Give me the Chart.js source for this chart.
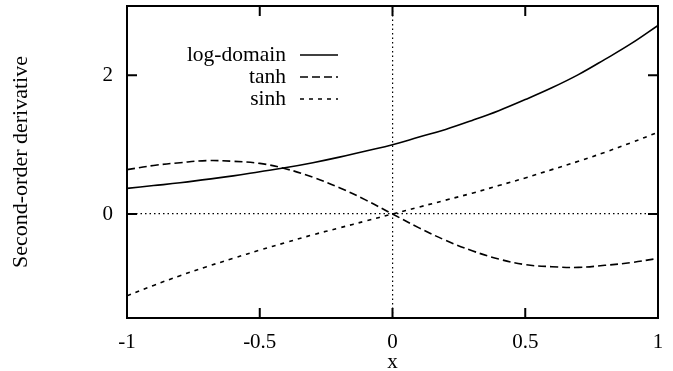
<!DOCTYPE html>
<html>
<head>
<meta charset="utf-8">
<script src="https://cdn.jsdelivr.net/npm/chart.js@4/dist/chart.umd.min.js"></script>
<style>
  html, body { margin: 0; padding: 0; background: #fff; }
  #wrap { width: 673px; height: 371px; }
</style>
</head>
<body>
<div id="wrap"><canvas id="c" width="673" height="371"></canvas></div>
<script>
// ---- data ----
const xValues = [-1.0, -0.9, -0.8, -0.7, -0.6, -0.5, -0.4, -0.3, -0.2, -0.1, 0.0,
                 0.1, 0.2, 0.3, 0.4, 0.5, 0.6, 0.7, 0.8, 0.9, 1.0];
const logDomain = [0.37, 0.41, 0.45, 0.50, 0.55, 0.61, 0.67, 0.74, 0.82, 0.91, 1.00,
                   1.11, 1.22, 1.35, 1.49, 1.65, 1.82, 2.01, 2.23, 2.46, 2.72];
const tanhSeries = [0.64, 0.70, 0.74, 0.77, 0.76, 0.73, 0.65, 0.53, 0.38, 0.20, 0.00,
                    -0.20, -0.38, -0.53, -0.65, -0.73, -0.76, -0.77, -0.74, -0.70, -0.64];
const sinhSeries = [-1.18, -1.03, -0.89, -0.76, -0.64, -0.52, -0.41, -0.30, -0.20, -0.10, 0.00,
                    0.10, 0.20, 0.30, 0.41, 0.52, 0.64, 0.76, 0.89, 1.03, 1.18];
const seriesNames = ["log-domain", "tanh", "sinh"];
const xTickValues = [-1, -0.5, 0, 0.5, 1];
const xTickLabels = ["-1", "-0.5", "0", "0.5", "1"];
const yTickValues = [0, 2];
const yTickLabels = ["0", "2"];
const xTitle = "x";
const yTitle = "Second-order derivative";

const FONT = "'Liberation Serif', 'Times New Roman', serif";
const dashes = [[], [8, 4], [4, 5]];

function pts(ys) { return xValues.map((x, i) => ({ x: x, y: ys[i] })); }

const datasets = [logDomain, tanhSeries, sinhSeries].map((ys, i) => ({
  label: seriesNames[i],
  data: pts(ys),
  borderColor: '#000',
  borderWidth: 1.6,
  borderDash: dashes[i],
  pointRadius: 0,
  tension: 0.4,
  fill: false
}));

const framePlugin = {
  id: 'frame',
  afterDatasetsDraw(chart) {
    const { ctx, chartArea: a, scales } = chart;
    ctx.save();
    ctx.strokeStyle = '#000';
    ctx.lineWidth = 2;
    ctx.setLineDash([]);
    const tl = 10;
    ctx.beginPath();
    scales.x.ticks.forEach(t => {
      const px = scales.x.getPixelForValue(t.value);
      ctx.moveTo(px, a.bottom); ctx.lineTo(px, a.bottom - tl);
      ctx.moveTo(px, a.top); ctx.lineTo(px, a.top + tl);
    });
    scales.y.ticks.forEach(t => {
      const py = scales.y.getPixelForValue(t.value);
      ctx.moveTo(a.left, py); ctx.lineTo(a.left + tl, py);
      ctx.moveTo(a.right, py); ctx.lineTo(a.right - tl, py);
    });
    ctx.stroke();
    ctx.strokeRect(a.left, a.top, a.right - a.left, a.bottom - a.top);

    // legend
    const tx = a.left + 159, lx0 = a.left + 173, lx1 = a.left + 211;
    const y0 = a.top + 49, dy = 22;
    ctx.font = "21.5px " + FONT;
    ctx.fillStyle = '#000';
    ctx.textAlign = 'right';
    ctx.textBaseline = 'middle';
    chart.data.datasets.forEach((ds, i) => {
      const y = y0 + i * dy;
      ctx.fillText(ds.label, tx, y);
      ctx.lineWidth = 1.6;
      ctx.setLineDash(ds.borderDash || []);
      ctx.beginPath();
      ctx.moveTo(lx0, y); ctx.lineTo(lx1, y);
      ctx.stroke();
    });
    ctx.restore();
  }
};

const zeroGrid = (ctx) => (ctx.tick && ctx.tick.value === 0) ? '#000' : 'rgba(0,0,0,0)';

new Chart(document.getElementById('c'), {
  type: 'line',
  data: { datasets },
  options: {
    responsive: false,
    animation: false,
    devicePixelRatio: 1,
    layout: { padding: { top: 6, right: 15, left: 0, bottom: 0 } },
    plugins: { legend: { display: false }, tooltip: { enabled: false } },
    scales: {
      x: {
        type: 'linear',
        min: -1, max: 1,
        afterBuildTicks(s) { s.ticks = xTickValues.map(v => ({ value: v })); },
        afterFit(s) { s.height = 53; s.paddingLeft = 0; s.paddingRight = 0; },
        ticks: {
          color: '#000',
          font: { family: FONT, size: 21 },
          padding: 12,
          maxRotation: 0,
          autoSkip: false,
          callback: (v, i) => xTickLabels[i]
        },
        grid: { drawTicks: false, color: zeroGrid, lineWidth: 1.2 },
        border: { display: false, dash: [1.5, 3] },
        title: { display: true, text: xTitle, color: '#000', font: { family: FONT, size: 21, lineHeight: 0.8 }, padding: { top: 0, bottom: 0 } }
      },
      y: {
        type: 'linear',
        min: -1.5, max: 3,
        afterBuildTicks(s) { s.ticks = yTickValues.map(v => ({ value: v })); },
        afterFit(s) { s.width = 127; s.paddingTop = 0; s.paddingBottom = 0; },
        ticks: {
          color: '#000',
          font: { family: FONT, size: 21 },
          padding: 14,
          autoSkip: false,
          callback: (v, i) => yTickLabels[i]
        },
        grid: { drawTicks: false, color: zeroGrid, lineWidth: 1.2 },
        border: { display: false, dash: [1.5, 3] },
        title: { display: true, text: yTitle, color: '#000', font: { family: FONT, size: 22 }, padding: { top: 8, bottom: 0 } }
      }
    }
  },
  plugins: [framePlugin]
});
</script>
</body>
</html>
